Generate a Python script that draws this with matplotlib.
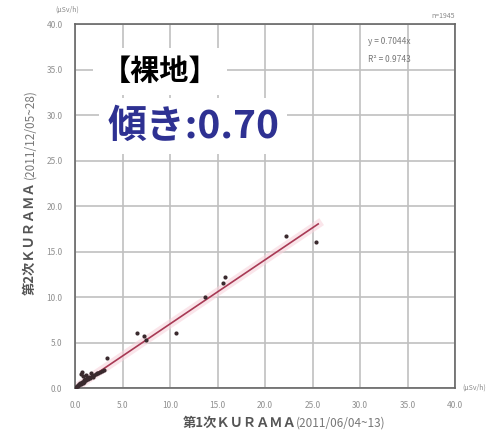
import matplotlib
matplotlib.use("Agg")
from matplotlib import pyplot as plt
import numpy as np

plt.rcParams['font.family'] = ['Noto Sans CJK JP', 'DejaVu Sans']

# readings (uSv/h): 1st KURAMA survey vs 2nd KURAMA survey
first_x = [0.1, 0.2, 0.3, 0.3, 0.4, 0.5, 0.5, 0.6, 0.7, 0.7, 0.8, 0.9, 1.0, 1.0,
           1.1, 1.2, 1.3, 1.4, 1.5, 1.6, 1.8, 1.9, 2.0, 2.2, 2.4, 2.6, 2.8, 0.6,
           0.8, 1.2, 1.7, 2.3, 3.0, 3.4, 6.5, 7.3, 7.5, 10.6, 13.7, 15.6, 15.8,
           22.2, 25.4]
second_y = [0.1, 0.2, 0.3, 0.2, 0.4, 0.4, 0.6, 0.5, 0.7, 1.8, 0.6, 0.8, 0.9, 0.7,
            1.0, 0.9, 1.1, 1.0, 1.2, 1.1, 1.3, 1.2, 1.4, 1.5, 1.6, 1.8, 1.9, 1.5,
            1.3, 1.4, 1.6, 1.7, 2.0, 3.3, 6.0, 5.7, 5.3, 6.1, 10.0, 11.5, 12.2,
            16.7, 16.1]
slope = 0.7044
r2 = 0.9743
fit_x = [0.0, 25.6]
ticks = [0, 5, 10, 15, 20, 25, 30, 35, 40]

fig = plt.figure(figsize=(5.01, 4.37), dpi=100)
ax = fig.add_axes([0.1497, 0.112, 0.7585, 0.833])
ax.set_xlim(0, 40)
ax.set_ylim(0, 40)
ax.set_xticks(ticks)
ax.set_yticks(ticks)
ax.set_xticklabels(['%.1f' % t for t in ticks], fontsize=6, color='#909090')
ax.set_yticklabels(['%.1f' % t for t in ticks], fontsize=6, color='#909090')
ax.tick_params(length=0, pad=9)
ax.grid(True, color='#c0c0c0', lw=1.2)
ax.set_axisbelow(True)
for s in ax.spines.values():
    s.set_color('#666666')
    s.set_linewidth(1.2)

# regression line with a faint pink band
fx = np.array(fit_x)
ax.plot(fx, slope * fx, color='#f8d4dc', lw=6, alpha=0.6, zorder=2)
ax.plot(fx, slope * fx, color='#a83a55', lw=1.2, zorder=3)
ax.scatter(first_x, second_y, s=9, color='#3a2a2e', zorder=4, lw=0)

# equation and count
ax.text(0.77, 0.965, 'y = %.4fx' % slope, transform=ax.transAxes, fontsize=6,
        color='#777777', va='top')
ax.text(0.77, 0.915, 'R² = %.4f' % r2, transform=ax.transAxes, fontsize=6,
        color='#777777', va='top')
ax.text(1.0, 1.01, 'n=1945', transform=ax.transAxes, fontsize=5,
        color='#888888', ha='right', va='bottom')
ax.text(-0.02, 1.03, '(μSv/h)', transform=ax.transAxes, fontsize=5,
        color='#888888', ha='center', va='bottom')
ax.text(1.02, 0.0, '(μSv/h)', transform=ax.transAxes, fontsize=5,
        color='#888888', ha='left', va='center')

# axis labels
fig.text(0.365, 0.032, '第1次ＫＵＲＡＭＡ', fontsize=9.5, color='#555555',
         ha='left', va='center', fontweight='bold')
fig.text(0.59, 0.032, '(2011/06/04~13)', fontsize=8.5, color='#777777',
         ha='left', va='center')
fig.text(0.06, 0.325, '第2次ＫＵＲＡＭＡ', fontsize=9.5, color='#555555',
         ha='center', va='bottom', rotation=90, fontweight='bold')
fig.text(0.06, 0.59, '(2011/12/05~28)', fontsize=8.5, color='#777777',
         ha='center', va='bottom', rotation=90)

# annotations
ax.text(0.07, 0.87, '【裸地】', transform=ax.transAxes, fontsize=21,
        fontweight='bold', color='black', va='center',
        bbox=dict(facecolor='white', edgecolor='none', pad=6))
ax.text(0.085, 0.72, '傾き:0.70', transform=ax.transAxes, fontsize=28,
        fontweight='bold', color='#2e3192', va='center',
        bbox=dict(facecolor='white', edgecolor='none', pad=6))

fig.savefig('out.png', dpi=100, facecolor='white')
